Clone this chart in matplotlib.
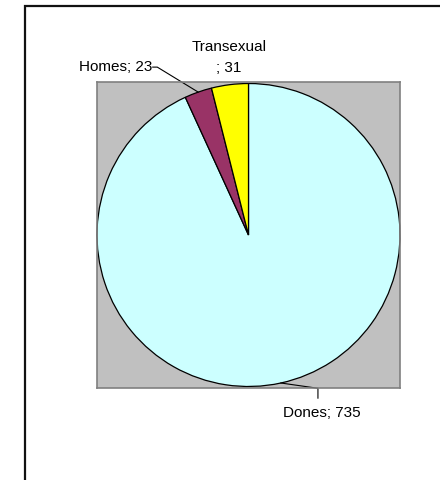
import numpy as np
import matplotlib.pyplot as plt
from matplotlib.patches import Rectangle

labels = ["Dones", "Homes", "Transexual"]
values = [735, 23, 31]
colors = ["#CCFFFF", "#993366", "#FFFF00"]

plt.rcParams["font.family"] = ["Liberation Sans", "DejaVu Sans"]

W, H = 440, 480
fig = plt.figure(figsize=(W / 100, H / 100), dpi=100)

# outer chart border (cropped at right and bottom)
fig.patches.append(Rectangle((24.5 / W, -0.1), 1.2, 1 - 5.5 / H + 0.1,
                             transform=fig.transFigure, fill=False,
                             edgecolor="#111111", linewidth=1.6))

# plot area = gray square
ax = fig.add_axes([97 / W, (H - 388) / H, 303 / W, 306 / H])

wedges, _ = ax.pie(values, colors=colors, startangle=90, counterclock=False,
                   radius=1.0, frame=True,
                   wedgeprops=dict(edgecolor="black", linewidth=0.9))
ax.set_facecolor("#C0C0C0")
for s in ax.spines.values():
    s.set_visible(True)
    s.set_edgecolor("#808080")
    s.set_linewidth(1.2)
ax.set_xticks([])
ax.set_yticks([])
ax.set_xlim(-1.0, 1.0)
ax.set_ylim(-1.01, 1.01)
ax.set_aspect("auto")

def edge_point(w):
    a = np.deg2rad((w.theta1 + w.theta2) / 2)
    return np.cos(a), np.sin(a)

fs = 11
# Dones
x, y = edge_point(wedges[0])
ax.annotate("Dones; 735", xy=(x, y), xytext=(x + 0.27, y - 0.2),
            ha="center", va="center", fontsize=fs, annotation_clip=False)
ax.plot([x, x + 0.245, x + 0.245], [y, y - 0.035, y - 0.1],
        color="black", lw=0.8, clip_on=False)

# Homes
x, y = edge_point(wedges[1])
ax.text(x - 0.3, y + 0.165, "Homes; 23", ha="right", va="center", fontsize=fs)
ax.plot([x, x - 0.27, x - 0.3], [y, y + 0.165, y + 0.165],
        color="black", lw=0.8, clip_on=False)

# Transexual
x, y = edge_point(wedges[2])
ax.text(x - 0.005, y + 0.18, "Transexual\n; 31", ha="center", va="center",
        fontsize=fs, linespacing=1.65)

fig.savefig("out.png", dpi=100)
